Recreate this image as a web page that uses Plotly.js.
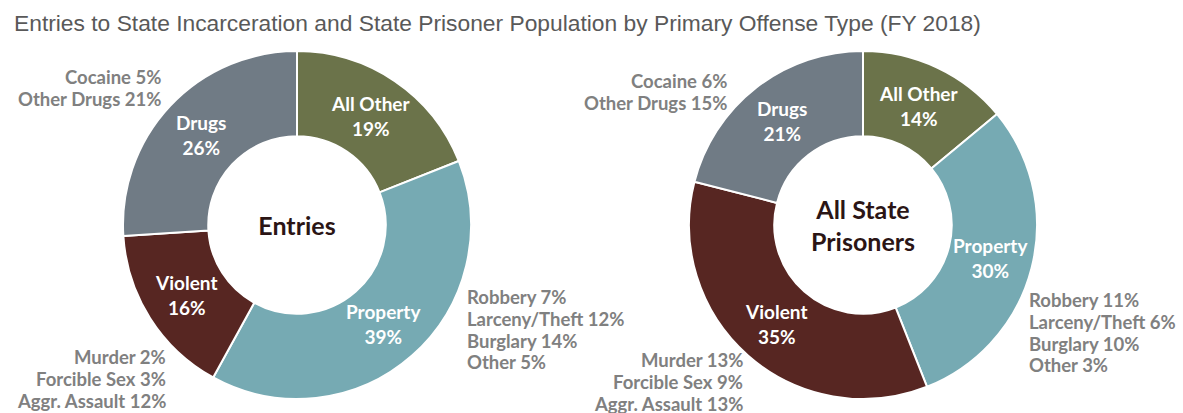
<!DOCTYPE html>
<html>
<head>
<meta charset="utf-8">
<script src="https://cdn.plot.ly/plotly-3.0.1.min.js"></script>
<style>html,body{margin:0;padding:0;background:#fff;}#chart{width:1183px;height:413px;}</style>
</head>
<body>
<div id="chart"></div>
<script>
// ---- Data ----
const chartTitle = 'Entries to State Incarceration and State Prisoner Population by Primary Offense Type (FY 2018)';
const categories = ['All Other', 'Property', 'Violent', 'Drugs'];
const entriesValues = [19, 39, 16, 26];
const prisonersValues = [14, 30, 35, 21];
const entriesCenter = 'Entries';
const prisonersCenter = 'All State<br>Prisoners';

const entriesDrugs = ['Cocaine 5%', 'Other Drugs 21%'];
const entriesViolent = ['Murder 2%', 'Forcible Sex 3%', 'Aggr. Assault 12%'];
const entriesProperty = ['Robbery 7%', 'Larceny/Theft 12%', 'Burglary 14%', 'Other 5%'];

const prisonersDrugs = ['Cocaine 6%', 'Other Drugs 15%'];
const prisonersViolent = ['Murder 13%', 'Forcible Sex 9%', 'Aggr. Assault 13%'];
const prisonersProperty = ['Robbery 11%', 'Larceny/Theft 6%', 'Burglary 10%', 'Other 3%'];

// ---- Style ----
const colors = ['#6b734a', '#76aab3', '#572622', '#707b85'];
const W = 1183, H = 413;
const FONT = 'Lato, "Open Sans", sans-serif';
const GRAY = '#808080';
const LINE_GAP = 21.8;
const R = 174, HOLE = 0.51;
const LABEL_R = R * (1 + HOLE) / 2;

function dom(cx, cy, r) {
  return {
    x: [(cx - r) / W, (cx + r) / W],
    y: [1 - (cy + r) / H, 1 - (cy - r) / H]
  };
}

function pieTrace(values, centerText, domain) {
  return {
    type: 'pie',
    labels: categories,
    values: values,
    sort: false,
    direction: 'clockwise',
    rotation: 0,
    hole: HOLE,
    domain: domain,
    marker: { colors: colors, line: { color: '#ffffff', width: 2 } },
    textinfo: 'none',
    title: { text: centerText, position: 'middle center',
             font: { family: FONT, size: 25, color: '#2b1515', weight: 'bold' } },
    showlegend: false,
    hoverinfo: 'label+value'
  };
}

const centers = [[297, 225], [863, 225]];
const traces = [
  pieTrace(entriesValues, entriesCenter, dom(centers[0][0], centers[0][1], R)),
  pieTrace(prisonersValues, prisonersCenter, dom(centers[1][0], centers[1][1], R))
];

// slice labels placed at each slice's mid-angle, derived from the values
function sliceLabels(values, c) {
  const total = values.reduce((a, b) => a + b, 0);
  let cum = 0;
  return values.map((v, i) => {
    const mid = (cum + v / 2) / total * 2 * Math.PI;
    cum += v;
    const px = c[0] + LABEL_R * Math.sin(mid);
    const py = c[1] - LABEL_R * Math.cos(mid);
    return {
      xref: 'paper', yref: 'paper',
      x: px / W, y: 1 - py / H,
      xanchor: 'center', yanchor: 'middle', align: 'center',
      showarrow: false,
      text: categories[i] + '<br>' + v + '%',
      font: { family: FONT, size: 19, color: '#ffffff', weight: 'bold' }
    };
  });
}

function notes(lines, x, y0, anchor) {
  return lines.map((t, i) => ({
    xref: 'paper', yref: 'paper',
    x: x / W, y: 1 - (y0 + i * LINE_GAP) / H,
    xanchor: anchor, yanchor: 'middle',
    align: anchor,
    showarrow: false,
    text: t,
    font: { family: FONT, size: 18.5, color: GRAY, weight: 'bold' }
  }));
}

const annotations = [].concat(
  sliceLabels(entriesValues, centers[0]),
  sliceLabels(prisonersValues, centers[1]),
  notes(entriesDrugs, 163, 77, 'right'),
  notes(entriesViolent, 168, 357, 'right'),
  notes(entriesProperty, 465, 297, 'left'),
  notes(prisonersDrugs, 729, 81, 'right'),
  notes(prisonersViolent, 745, 360, 'right'),
  notes(prisonersProperty, 1027, 300, 'left')
);

const layout = {
  width: W, height: H,
  margin: { l: 0, r: 0, t: 0, b: 0 },
  paper_bgcolor: '#ffffff',
  title: { text: chartTitle, x: 14 / W, xanchor: 'left', y: 1 - 23 / H, yanchor: 'middle',
           font: { family: '"Liberation Sans", Arial, sans-serif', size: 22.8, color: '#595959' } },
  annotations: annotations
};

Plotly.newPlot('chart', traces, layout, { displayModeBar: false, staticPlot: true });
</script>
</body>
</html>
